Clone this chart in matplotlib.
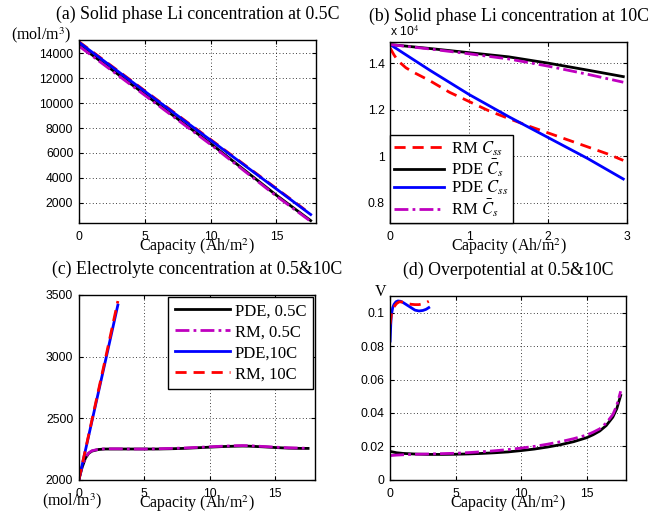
import numpy as np
import matplotlib
matplotlib.use("Agg")
import matplotlib.pyplot as plt
from matplotlib.ticker import FuncFormatter

plt.rcParams['font.family'] = 'Liberation Sans'
plt.rcParams['mathtext.fontset'] = 'stix'

# (a) solid phase Li concentration at 0.5C
xa = [0, 5, 10, 15, 17.6]
a_pde_css = [14900, 10960, 7030, 3100, 1050]
a_rm_css = [14950, 11010, 7080, 3140, 1090]
a_pde_cbar = [14680, 10720, 6760, 2600, 560]
a_rm_cbar = [14600, 10640, 6680, 2530, 500]

# (b) solid phase Li concentration at 10C
xb = [0, 0.5, 1, 1.5, 2, 2.5, 2.95]
b_pde_cbar = [14800, 14630, 14450, 14270, 14000, 13700, 13420]
b_rm_cbar = [14800, 14610, 14400, 14180, 13870, 13520, 13180]
b_pde_css = [14800, 13700, 12650, 11700, 10800, 9900, 9020]
xb_rm = [0, 0.05, 0.1, 0.2, 0.3, 0.5, 0.75, 1, 1.25, 1.5, 1.75, 2, 2.25, 2.5, 2.75, 2.95]
b_rm_css = [14650, 14350, 14100, 13800, 13600, 13250, 12750, 12350, 11950,
            11620, 11300, 11000, 10700, 10400, 10100, 9820]

# (c) electrolyte concentration
xc = [0, 0.25, 0.5, 0.75, 1, 1.5, 2, 3, 4, 5, 6, 7, 8, 9, 10, 11, 12, 12.5,
      13, 14, 15, 16, 17, 17.5]
c_pde_05 = [2000, 2100, 2175, 2215, 2233, 2246, 2250, 2250, 2250, 2250, 2250,
            2252, 2255, 2260, 2265, 2270, 2273, 2274, 2273, 2268, 2262, 2257,
            2255, 2255]
c_rm_05 = [2000, 2110, 2180, 2218, 2236, 2248, 2252, 2252, 2250, 2250, 2252,
           2255, 2258, 2263, 2268, 2273, 2277, 2278, 2277, 2271, 2265, 2260,
           2257, 2257]
xc10 = [0, 1, 2, 2.98]
c_pde_10 = [2000, 2475, 2950, 3418]
c_rm_10 = [2000, 2485, 2968, 3450]

# (d) overpotential
xd = [0, 0.5, 1, 2, 3, 4, 5, 6, 7, 8, 9, 10, 11, 12, 13, 14, 15, 15.5, 16,
      16.5, 17, 17.3, 17.6]
d_pde_05 = [0.017, 0.0162, 0.0158, 0.0154, 0.0152, 0.0152, 0.0153, 0.0155,
            0.0158, 0.0162, 0.0167, 0.0175, 0.0184, 0.0196, 0.021, 0.0228,
            0.0252, 0.027, 0.0292, 0.0325, 0.0375, 0.0425, 0.0505]
d_rm_05 = [0.0145, 0.0148, 0.015, 0.0153, 0.0155, 0.0157, 0.0159, 0.0163,
           0.0168, 0.0174, 0.0181, 0.019, 0.02, 0.0213, 0.0228, 0.0246,
           0.0268, 0.0285, 0.0305, 0.034, 0.039, 0.0445, 0.053]
xd_pde10 = [0, 0.05, 0.1, 0.2, 0.3, 0.45, 0.6, 0.8, 1.0, 1.3, 1.6, 1.9, 2.2,
            2.5, 2.75, 2.95]
d_pde_10 = [0.083, 0.093, 0.099, 0.103, 0.105, 0.1065, 0.107, 0.1068, 0.106,
            0.1045, 0.103, 0.1015, 0.101, 0.1013, 0.102, 0.103]
xd_rm10 = [0, 0.1, 0.2, 0.35, 0.5, 0.7, 1.0, 1.3, 1.6, 1.9, 2.2, 2.5, 2.75, 2.95]
d_rm_10 = [0.093, 0.099, 0.102, 0.104, 0.1055, 0.1065, 0.1063, 0.1055, 0.105,
           0.1048, 0.1048, 0.1053, 0.106, 0.1068]

serif = 'Liberation Serif'
lw = 2
red_ls = (0, (4, 2.5))
mag_ls = (0, (5, 1.5, 1, 1.5))

fig = plt.figure(figsize=(6.68, 5.21), dpi=100)
ax_a = fig.add_axes([0.118, 0.572, 0.355, 0.351])
ax_b = fig.add_axes([0.584, 0.572, 0.355, 0.347])
ax_c = fig.add_axes([0.118, 0.079, 0.353, 0.355])
ax_d = fig.add_axes([0.584, 0.079, 0.353, 0.353])


def style(ax, title):
    ax.grid(True, linestyle=(0, (1, 3)), color='black', linewidth=0.6)
    ax.tick_params(direction='in', top=True, right=True, labelsize=8.7,
                   length=3, pad=4)
    ax.tick_params(axis='x', pad=6)
    for s in ax.spines.values():
        s.set_linewidth(1.0)
    ax.set_title(title, family=serif, fontsize=12.8, pad=15)
    ax.set_xlabel(r'Capacity (Ah/m$^2$)', family=serif, fontsize=11.5,
                  labelpad=-5)


# (a)
ax_a.plot(xa, a_pde_cbar, color='black', lw=lw)
ax_a.plot(xa, a_rm_cbar, color='m', lw=lw, ls=mag_ls)
ax_a.plot(xa, a_rm_css, color='red', lw=lw, ls=red_ls)
ax_a.plot(xa, a_pde_css, color='blue', lw=lw)
ax_a.set_xlim(0, 18)
ax_a.set_ylim(370, 15070)
ax_a.set_xticks([0, 5, 10, 15])
ax_a.set_yticks([2000, 4000, 6000, 8000, 10000, 12000, 14000])
style(ax_a, '(a) Solid phase Li concentration at 0.5C')
ax_a.text(-0.285, 1.03, r'(mol/m$^3$)', transform=ax_a.transAxes,
          family=serif, fontsize=11.5, va='center', ha='left')

# (b)
ax_b.plot(xb_rm, b_rm_css, color='red', lw=lw, ls=red_ls, label=r'RM $C_{ss}$')
ax_b.plot(xb, b_pde_cbar, color='black', lw=lw, label=r'PDE $\bar{C}_s$')
ax_b.plot(xb, b_pde_css, color='blue', lw=lw, label=r'PDE $C_{ss}$')
ax_b.plot(xb, b_rm_cbar, color='m', lw=lw, ls=mag_ls, label=r'RM $\bar{C}_s$')
ax_b.set_xlim(0, 3)
ax_b.set_ylim(7130, 14900)
ax_b.set_xticks([0, 1, 2, 3])
ax_b.set_yticks([8000, 10000, 12000, 14000])
ax_b.yaxis.set_major_formatter(FuncFormatter(lambda v, p: '%g' % (v / 1e4)))
style(ax_b, '(b) Solid phase Li concentration at 10C')
ax_b.text(0.0, 1.02, r'x 10$^4$', transform=ax_b.transAxes, fontsize=8.7,
          va='bottom', ha='left')
leg = ax_b.legend(loc='lower left', prop={'family': serif, 'size': 12},
                  fancybox=False, framealpha=1, edgecolor='black',
                  handlelength=3.0, borderaxespad=0, labelspacing=0.0,
                  borderpad=0.25, handletextpad=0.4)
leg.get_frame().set_linewidth(1.0)

# (c)
ax_c.plot(xc, c_pde_05, color='black', lw=lw, label='PDE, 0.5C')
ax_c.plot(xc, c_rm_05, color='m', lw=lw, ls=mag_ls, label='RM, 0.5C')
ax_c.plot(xc10, c_pde_10, color='blue', lw=lw, label='PDE,10C')
ax_c.plot(xc10, c_rm_10, color='red', lw=lw, ls=red_ls, label='RM, 10C')
ax_c.set_xlim(0, 18)
ax_c.set_ylim(2000, 3500)
ax_c.set_xticks([0, 5, 10, 15])
ax_c.set_yticks([2000, 2500, 3000, 3500])
style(ax_c, '(c) Electrolyte concentration at 0.5&10C')
ax_c.text(-0.155, -0.06, r'(mol/m$^3$)', transform=ax_c.transAxes,
          family=serif, fontsize=11.5, va='top', ha='left')
leg = ax_c.legend(loc='upper right', prop={'family': serif, 'size': 12},
                  fancybox=False, framealpha=1, edgecolor='black',
                  handlelength=3.3, borderaxespad=0.1, labelspacing=0.3,
                  borderpad=0.4, handletextpad=0.3)
leg.get_frame().set_linewidth(1.0)

# (d)
ax_d.plot(xd, d_pde_05, color='black', lw=lw)
ax_d.plot(xd, d_rm_05, color='m', lw=lw, ls=mag_ls)
ax_d.plot(xd_pde10, d_pde_10, color='blue', lw=lw)
ax_d.plot(xd_rm10, d_rm_10, color='red', lw=lw, ls=red_ls)
ax_d.set_xlim(0, 18)
ax_d.set_ylim(0, 0.11)
ax_d.set_xticks([0, 5, 10, 15])
ax_d.set_yticks([0, 0.02, 0.04, 0.06, 0.08, 0.1])
ax_d.yaxis.set_major_formatter(FuncFormatter(lambda v, p: '%g' % v))
style(ax_d, '(d) Overpotential at 0.5&10C')
ax_d.text(-0.04, 1.02, 'V', transform=ax_d.transAxes, family=serif,
          fontsize=11.5, va='center', ha='center')

fig.savefig('out.png', dpi=100)
